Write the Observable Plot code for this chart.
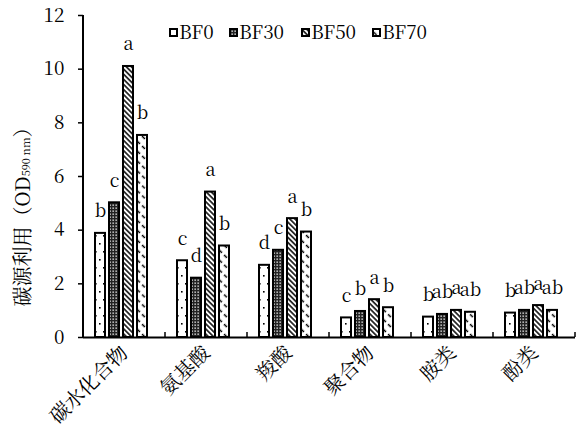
<!DOCTYPE html>
<html><head><meta charset="utf-8">
<script src="https://cdn.jsdelivr.net/npm/d3@7"></script>
<script src="https://cdn.jsdelivr.net/npm/@observablehq/plot@0.6"></script>
<style>body{margin:0;background:#fff}</style>
</head><body><div id="chart"></div>
<script>
const categories = ["碳水化合物", "氨基酸", "羧酸", "聚合物", "胺类", "酚类"];
const series = ["BF0", "BF30", "BF50", "BF70"];
const BF0 = [3.88, 2.86, 2.69, 0.73, 0.76, 0.91];
const BF30 = [5.02, 2.21, 3.25, 0.97, 0.86, 1.01];
const BF50 = [10.1, 5.42, 4.43, 1.41, 1.01, 1.19];
const BF70 = [7.53, 3.41, 3.93, 1.11, 0.94, 1.01];
const letters0 = ["b", "c", "d", "c", "b", "b"];
const letters30 = ["c", "d", "c", "b", "ab", "ab"];
const letters50 = ["a", "a", "a", "a", "a", "a"];
const letters70 = ["b", "b", "b", "b", "ab", "ab"];
const yTicks = [0, 2, 4, 6, 8, 10, 12];

const values = [BF0, BF30, BF50, BF70];
const letters = [letters0, letters30, letters50, letters70];
const rows = categories.flatMap((c, i) => series.map((s, j) => ({category: c, series: s, value: values[j][i], letter: letters[j][i]})));

const serif = "\"Noto Serif CJK SC\", \"Liberation Serif\", serif";

const plot = Plot.plot({
  width: 576, height: 438,
  marginTop: 15, marginBottom: 101, marginLeft: 82, marginRight: 0,
  style: {fontFamily: serif, fontSize: "18px", color: "#000", background: "#fff", overflow: "visible"},
  fx: {domain: categories, padding: 0, label: null},
  x: {domain: series, paddingInner: 4/15, paddingOuter: 0.877, align: 0.41, axis: null},
  y: {domain: [0, 12], label: null},
  marks: [
    ...series.map((s, j) => Plot.barY(rows.filter(d => d.series === s), {
      fx: "category", x: "series", y: "value", fill: `url(#pat${j})`, stroke: "#000", strokeWidth: 2
    })),
    Plot.ruleY([0], {stroke: "#000", strokeWidth: 2}),
    Plot.text(rows, {fx: "category", x: "series", y: "value", text: "letter", dy: -16, lineAnchor: "bottom", fontSize: 18, fill: "#000"}),
    Plot.axisY({ticks: yTicks, tickSize: 5, tickPadding: 14, fontSize: 19, label: null, strokeWidth: 1.5}),
    Plot.axisFx({anchor: "bottom", tickRotate: -45, tickSize: 0, tickPadding: 12, fontSize: 20, label: null})
  ]
});

const svg = d3.select(plot);
const defs = svg.insert("defs", ":first-child");
// BF0: sparse dots
const p0 = defs.append("pattern").attr("id", "pat0").attr("patternUnits", "userSpaceOnUse").attr("width", 8).attr("height", 16);
p0.append("rect").attr("width", 8).attr("height", 16).attr("fill", "#fff");
p0.append("rect").attr("x", 2).attr("y", 3).attr("width", 1.6).attr("height", 1.6).attr("fill", "#000");
p0.append("rect").attr("x", 6).attr("y", 11).attr("width", 1.6).attr("height", 1.6).attr("fill", "#000");
// BF30: dense mesh
const p1 = defs.append("pattern").attr("id", "pat1").attr("patternUnits", "userSpaceOnUse").attr("width", 3).attr("height", 3);
p1.append("rect").attr("width", 3).attr("height", 3).attr("fill", "#222");
p1.append("rect").attr("x", 0.5).attr("y", 0.5).attr("width", 1.3).attr("height", 1.3).attr("fill", "#fff");
// BF50: dense diagonal lines
const p2 = defs.append("pattern").attr("id", "pat2").attr("patternUnits", "userSpaceOnUse").attr("width", 8).attr("height", 3.6).attr("patternTransform", "rotate(45)");
p2.append("rect").attr("width", 8).attr("height", 3.6).attr("fill", "#fff");
p2.append("line").attr("x1", 0).attr("x2", 8).attr("y1", 1.8).attr("y2", 1.8).attr("stroke", "#000").attr("stroke-width", 1.5);
// BF70: sparse dashed diagonals
const p3 = defs.append("pattern").attr("id", "pat3").attr("patternUnits", "userSpaceOnUse").attr("width", 7).attr("height", 7).attr("patternTransform", "rotate(45)");
p3.append("rect").attr("width", 7).attr("height", 7).attr("fill", "#fff");
p3.append("line").attr("x1", 0).attr("x2", 4).attr("y1", 3.5).attr("y2", 3.5).attr("stroke", "#000").attr("stroke-width", 1.5);

// y axis line and boundary ticks
const fx = plot.scale("fx"), y = plot.scale("y");
const y0 = y.apply(0), yTop = y.apply(12);
const x0 = fx.apply(categories[0]);
svg.append("line").attr("x1", x0).attr("x2", x0).attr("y1", yTop).attr("y2", y0).attr("stroke", "#000").attr("stroke-width", 2);
const edges = categories.map(c => fx.apply(c)).concat([fx.apply(categories[categories.length - 1]) + fx.bandwidth]);
edges.forEach(e => svg.append("line").attr("x1", e).attr("x2", e).attr("y1", y0).attr("y2", y0 - 5).attr("stroke", "#000").attr("stroke-width", 1.5));

// y label with subscript
const t = svg.append("text").attr("transform", `translate(21,212) rotate(-90)`).attr("text-anchor", "middle")
  .attr("dominant-baseline", "central").attr("font-size", 20).attr("fill", "#000");
t.append("tspan").text("碳源利用（");
t.append("tspan").text("OD");
t.append("tspan").attr("font-size", 11).attr("dy", 4).text("590 nm");
t.append("tspan").attr("dy", -4).text("）");

// legend
const lx = [170, 230, 302, 373];
series.forEach((s, j) => {
  const g = svg.append("g");
  g.append("rect").attr("x", lx[j]).attr("y", 29).attr("width", 7).attr("height", 7).attr("fill", `url(#pat${j})`).attr("stroke", "#000").attr("stroke-width", 2);
  g.append("text").attr("x", lx[j] + 9).attr("y", 39).attr("text-anchor", "start").attr("font-size", 19).attr("fill", "#000").text(s);
});

// fonts as inline styles
svg.selectAll("text, tspan").style("font-family", serif);

document.getElementById("chart").appendChild(plot);
</script>
</body></html>
